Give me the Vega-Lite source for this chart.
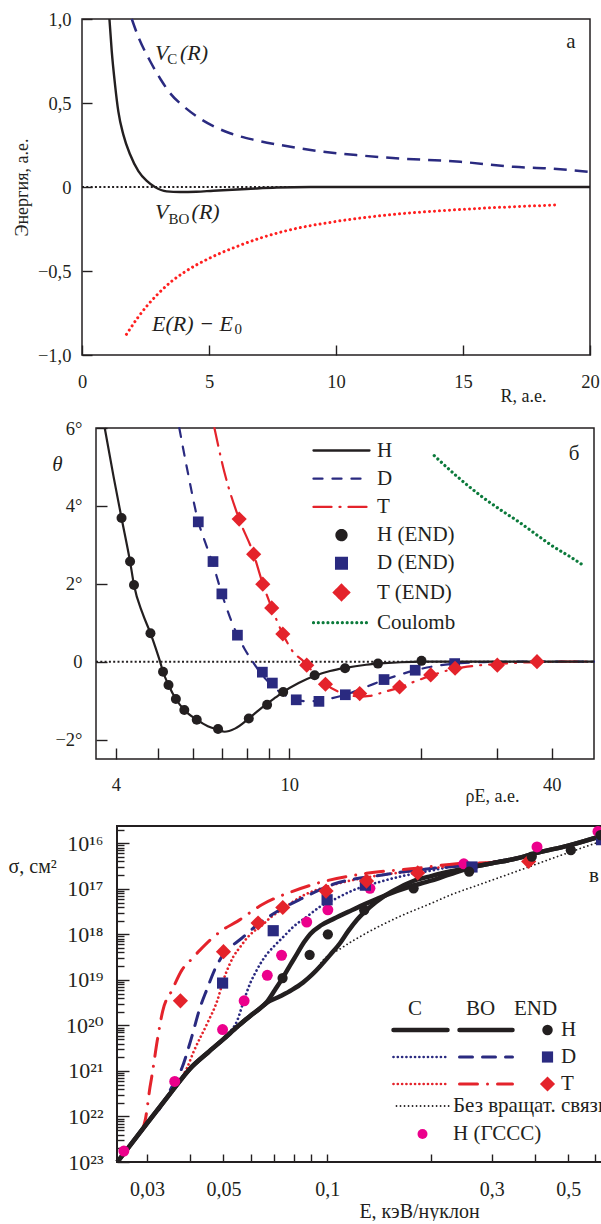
{
"$schema": "https://vega.github.io/schema/vega-lite/v6.json",
"padding": {"left": 8, "top": 9, "right": 0, "bottom": 0},
"spacing": 13,
"resolve": {"scale": {"color": "independent", "shape": "independent", "size": "independent", "strokeDash": "independent", "strokeWidth": "independent"}},
"config": {
  "font": "Liberation Serif",
  "view": {"stroke": "#231f20", "strokeWidth": 1.5},
  "axis": {"labelFont": "Liberation Serif", "titleFont": "Liberation Serif", "labelColor": "#231f20", "titleColor": "#231f20", "tickColor": "#231f20", "tickWidth": 1.4, "domain": false, "grid": false, "titleFontWeight": "normal", "labelFlush": false, "labelOverlap": false},
  "legend": {"labelFont": "Liberation Serif", "titleFont": "Liberation Serif", "titleFontWeight": "normal", "labelColor": "#231f20", "titleColor": "#231f20", "labelLimit": 400, "padding": 0, "orient": "none"},
  "text": {"font": "Liberation Serif", "color": "#231f20"}
},
"datasets": {
  "a": [
    {"s":"zero","x":0,"y":0},{"s":"zero","x":20,"y":0},
    {"s":"BO","x":1.08,"y":1.0},{"s":"BO","x":1.17,"y":0.81},{"s":"BO","x":1.3,"y":0.61},{"s":"BO","x":1.43,"y":0.45},{"s":"BO","x":1.63,"y":0.31},{"s":"BO","x":1.89,"y":0.195},{"s":"BO","x":2.22,"y":0.095},{"s":"BO","x":2.55,"y":0.036},{"s":"BO","x":2.87,"y":0.0},{"s":"BO","x":3.33,"y":-0.026},{"s":"BO","x":3.86,"y":-0.03},{"s":"BO","x":4.5,"y":-0.028},{"s":"BO","x":5.17,"y":-0.022},{"s":"BO","x":6.48,"y":-0.012},{"s":"BO","x":7.66,"y":-0.003},{"s":"BO","x":9,"y":0},{"s":"BO","x":20,"y":0},
    {"s":"C","x":1.96,"y":1.0},{"s":"C","x":2.2,"y":0.9},{"s":"C","x":2.68,"y":0.75},{"s":"C","x":3.1,"y":0.64},{"s":"C","x":3.46,"y":0.56},{"s":"C","x":4.0,"y":0.48},{"s":"C","x":4.52,"y":0.42},{"s":"C","x":5.2,"y":0.36},{"s":"C","x":5.83,"y":0.32},{"s":"C","x":6.8,"y":0.28},{"s":"C","x":7.8,"y":0.25},{"s":"C","x":9,"y":0.22},{"s":"C","x":10.8,"y":0.19},{"s":"C","x":12.5,"y":0.17},{"s":"C","x":14.9,"y":0.15},{"s":"C","x":17,"y":0.12},{"s":"C","x":18.5,"y":0.11},{"s":"C","x":20,"y":0.09},
    {"s":"E","x":1.75,"y":-0.877},{"s":"E","x":2.2,"y":-0.777},{"s":"E","x":2.6,"y":-0.7},{"s":"E","x":3.0,"y":-0.635},{"s":"E","x":3.5,"y":-0.565},{"s":"E","x":4.0,"y":-0.51},{"s":"E","x":5.0,"y":-0.425},{"s":"E","x":6.0,"y":-0.36},{"s":"E","x":7.0,"y":-0.305},{"s":"E","x":8.0,"y":-0.262},{"s":"E","x":10.0,"y":-0.205},{"s":"E","x":12.0,"y":-0.167},{"s":"E","x":15.0,"y":-0.133},{"s":"E","x":18.7,"y":-0.107}
  ],
  "at": [
    {"t":"V","x":2.874,"y":0.798},{"t":"(R)","x":3.858,"y":0.798},
    {"t":"V","x":2.874,"y":-0.149},{"t":"(R)","x":4.315,"y":-0.149},
    {"t":"E(R) − E","x":2.756,"y":-0.8125}
  ],
  "as": [
    {"t":"C","x":3.358,"y":0.762},{"t":"BO","x":3.409,"y":-0.19},{"t":"0","x":6.0,"y":-0.845}
  ],
  "al": [{"t":"а","x":19.25,"y":0.863}],
  "bf": [{"x":3.6,"x2":50,"y":-2.5,"y2":6}],
  "b": [
    {"s":"zero","x":3.6,"y":0},{"s":"zero","x":50,"y":0},
    {"s":"H","x":3.77,"y":6.0},{"s":"H","x":3.95,"y":4.75},{"s":"H","x":4.12,"y":3.69},{"s":"H","x":4.31,"y":2.57},{"s":"H","x":4.4,"y":1.97},{"s":"H","x":4.6,"y":1.25},{"s":"H","x":4.8,"y":0.73},{"s":"H","x":4.95,"y":0.3},{"s":"H","x":5.05,"y":0.0},{"s":"H","x":5.13,"y":-0.26},{"s":"H","x":5.28,"y":-0.6},{"s":"H","x":5.49,"y":-0.96},{"s":"H","x":5.74,"y":-1.24},{"s":"H","x":6.13,"y":-1.49},{"s":"H","x":6.5,"y":-1.66},{"s":"H","x":6.86,"y":-1.75},{"s":"H","x":7.1,"y":-1.8},{"s":"H","x":7.5,"y":-1.72},{"s":"H","x":8.07,"y":-1.46},{"s":"H","x":8.5,"y":-1.25},{"s":"H","x":8.89,"y":-1.08},{"s":"H","x":9.3,"y":-0.92},{"s":"H","x":9.68,"y":-0.78},{"s":"H","x":10.5,"y":-0.55},{"s":"H","x":11.43,"y":-0.36},{"s":"H","x":12.4,"y":-0.24},{"s":"H","x":13.42,"y":-0.16},{"s":"H","x":15,"y":-0.08},{"s":"H","x":16.5,"y":-0.04},{"s":"H","x":18,"y":-0.015},{"s":"H","x":20.1,"y":0},{"s":"H","x":30,"y":0},{"s":"H","x":50,"y":0},
    {"s":"D","x":5.59,"y":6.0},{"s":"D","x":5.85,"y":4.85},{"s":"D","x":6.18,"y":3.6},{"s":"D","x":6.45,"y":2.98},{"s":"D","x":6.68,"y":2.5},{"s":"D","x":7.0,"y":1.74},{"s":"D","x":7.3,"y":1.15},{"s":"D","x":7.6,"y":0.68},{"s":"D","x":7.9,"y":0.32},{"s":"D","x":8.24,"y":0.0},{"s":"D","x":8.6,"y":-0.3},{"s":"D","x":9.1,"y":-0.6},{"s":"D","x":9.7,"y":-0.84},{"s":"D","x":10.37,"y":-0.98},{"s":"D","x":11.0,"y":-1.02},{"s":"D","x":11.7,"y":-1.0},{"s":"D","x":12.5,"y":-0.94},{"s":"D","x":13.44,"y":-0.85},{"s":"D","x":15,"y":-0.65},{"s":"D","x":16.49,"y":-0.47},{"s":"D","x":18,"y":-0.33},{"s":"D","x":19.44,"y":-0.22},{"s":"D","x":22,"y":-0.1},{"s":"D","x":24,"y":-0.05},{"s":"D","x":28,"y":-0.01},{"s":"D","x":35,"y":0},{"s":"D","x":50,"y":0},
    {"s":"T","x":6.73,"y":6.0},{"s":"T","x":7.1,"y":4.85},{"s":"T","x":7.67,"y":3.66},{"s":"T","x":8.28,"y":2.76},{"s":"T","x":8.69,"y":2.0},{"s":"T","x":9.11,"y":1.38},{"s":"T","x":9.66,"y":0.71},{"s":"T","x":10.2,"y":0.25},{"s":"T","x":10.8,"y":0.0},{"s":"T","x":11.4,"y":-0.3},{"s":"T","x":12.1,"y":-0.58},{"s":"T","x":13.0,"y":-0.78},{"s":"T","x":14.0,"y":-0.88},{"s":"T","x":14.5,"y":-0.9},{"s":"T","x":15.3,"y":-0.88},{"s":"T","x":16.5,"y":-0.78},{"s":"T","x":17.9,"y":-0.66},{"s":"T","x":19.5,"y":-0.5},{"s":"T","x":21.1,"y":-0.36},{"s":"T","x":24,"y":-0.18},{"s":"T","x":27,"y":-0.1},{"s":"T","x":30,"y":-0.06},{"s":"T","x":37,"y":-0.01},{"s":"T","x":45,"y":0},{"s":"T","x":50,"y":0},
    {"s":"Coulomb","x":21.5,"y":5.29},{"s":"Coulomb","x":24,"y":4.8},{"s":"Coulomb","x":27.4,"y":4.27},{"s":"Coulomb","x":30.5,"y":3.9},{"s":"Coulomb","x":33.6,"y":3.59},{"s":"Coulomb","x":37,"y":3.25},{"s":"Coulomb","x":40.4,"y":2.95},{"s":"Coulomb","x":44,"y":2.7},{"s":"Coulomb","x":47,"y":2.49}
  ],
  "bp": [
    {"s":"H (END)","x":4.12,"y":3.69},{"s":"H (END)","x":4.31,"y":2.57},{"s":"H (END)","x":4.4,"y":1.97},{"s":"H (END)","x":4.8,"y":0.73},{"s":"H (END)","x":5.13,"y":-0.26},{"s":"H (END)","x":5.28,"y":-0.6},{"s":"H (END)","x":5.49,"y":-0.96},{"s":"H (END)","x":5.74,"y":-1.24},{"s":"H (END)","x":6.13,"y":-1.49},{"s":"H (END)","x":6.86,"y":-1.73},{"s":"H (END)","x":8.07,"y":-1.46},{"s":"H (END)","x":8.89,"y":-1.11},{"s":"H (END)","x":9.68,"y":-0.78},{"s":"H (END)","x":11.43,"y":-0.35},{"s":"H (END)","x":13.42,"y":-0.17},{"s":"H (END)","x":15.97,"y":-0.05},{"s":"H (END)","x":20.1,"y":0.02},
    {"s":"D (END)","x":6.18,"y":3.59},{"s":"D (END)","x":6.68,"y":2.57},{"s":"D (END)","x":7.0,"y":1.74},{"s":"D (END)","x":7.6,"y":0.68},{"s":"D (END)","x":8.67,"y":-0.27},{"s":"D (END)","x":9.14,"y":-0.55},{"s":"D (END)","x":10.37,"y":-0.98},{"s":"D (END)","x":11.69,"y":-1.02},{"s":"D (END)","x":13.44,"y":-0.85},{"s":"D (END)","x":16.49,"y":-0.46},{"s":"D (END)","x":19.44,"y":-0.22},{"s":"D (END)","x":23.95,"y":-0.05},
    {"s":"T (END)","x":7.67,"y":3.66},{"s":"T (END)","x":8.28,"y":2.76},{"s":"T (END)","x":8.69,"y":1.99},{"s":"T (END)","x":9.11,"y":1.38},{"s":"T (END)","x":9.66,"y":0.71},{"s":"T (END)","x":10.96,"y":-0.09},{"s":"T (END)","x":12.1,"y":-0.58},{"s":"T (END)","x":14.5,"y":-0.82},{"s":"T (END)","x":17.9,"y":-0.65},{"s":"T (END)","x":21.1,"y":-0.34},{"s":"T (END)","x":24.0,"y":-0.17},{"s":"T (END)","x":30.0,"y":-0.09},{"s":"T (END)","x":37.0,"y":0.0}
  ],
  "bl": [{"t":"б","x":45,"y":5.33}],
  "vf": [{"x":0.02455,"x2":0.648,"k":15.62,"k2":23}],
  "v": [
    {"grp":"H","iso":"up","x":0.0246,"k":23.0},{"grp":"H","iso":"up","x":0.03,"k":22.15},{"grp":"H","iso":"up","x":0.035,"k":21.5},{"grp":"H","iso":"up","x":0.04,"k":20.95},{"grp":"H","iso":"up","x":0.045,"k":20.6},{"grp":"H","iso":"up","x":0.05,"k":20.3},{"grp":"H","iso":"up","x":0.055,"k":20.02},{"grp":"H","iso":"up","x":0.06,"k":19.78},{"grp":"H","iso":"up","x":0.0635,"k":19.64},{"grp":"H","iso":"up","x":0.0669,"k":19.48},{"grp":"H","iso":"up","x":0.0705,"k":19.22},{"grp":"H","iso":"up","x":0.0742,"k":18.96},{"grp":"H","iso":"up","x":0.078,"k":18.68},{"grp":"H","iso":"up","x":0.0817,"k":18.43},{"grp":"H","iso":"up","x":0.0855,"k":18.18},{"grp":"H","iso":"up","x":0.0893,"k":17.99},{"grp":"H","iso":"up","x":0.096,"k":17.8},{"grp":"H","iso":"up","x":0.1043,"k":17.66},{"grp":"H","iso":"up","x":0.117,"k":17.48},{"grp":"H","iso":"up","x":0.13,"k":17.32},{"grp":"H","iso":"up","x":0.15,"k":17.12},{"grp":"H","iso":"up","x":0.174,"k":16.95},{"grp":"H","iso":"up","x":0.2,"k":16.82},{"grp":"H","iso":"up","x":0.227,"k":16.68},{"grp":"H","iso":"up","x":0.265,"k":16.52},{"grp":"H","iso":"up","x":0.3,"k":16.44},{"grp":"H","iso":"up","x":0.355,"k":16.33},{"grp":"H","iso":"up","x":0.4,"k":16.22},{"grp":"H","iso":"up","x":0.5,"k":16.05},{"grp":"H","iso":"up","x":0.648,"k":15.8},
    {"grp":"H","iso":"low","x":0.0246,"k":23.0},{"grp":"H","iso":"low","x":0.03,"k":22.15},{"grp":"H","iso":"low","x":0.035,"k":21.5},{"grp":"H","iso":"low","x":0.04,"k":20.95},{"grp":"H","iso":"low","x":0.045,"k":20.6},{"grp":"H","iso":"low","x":0.05,"k":20.3},{"grp":"H","iso":"low","x":0.055,"k":20.02},{"grp":"H","iso":"low","x":0.06,"k":19.78},{"grp":"H","iso":"low","x":0.0635,"k":19.64},{"grp":"H","iso":"low","x":0.0669,"k":19.5},{"grp":"H","iso":"low","x":0.073,"k":19.36},{"grp":"H","iso":"low","x":0.079,"k":19.22},{"grp":"H","iso":"low","x":0.085,"k":19.06},{"grp":"H","iso":"low","x":0.0905,"k":18.88},{"grp":"H","iso":"low","x":0.0954,"k":18.7},{"grp":"H","iso":"low","x":0.102,"k":18.45},{"grp":"H","iso":"low","x":0.109,"k":18.19},{"grp":"H","iso":"low","x":0.115,"k":17.93},{"grp":"H","iso":"low","x":0.122,"k":17.68},{"grp":"H","iso":"low","x":0.133,"k":17.4},{"grp":"H","iso":"low","x":0.1456,"k":17.17},{"grp":"H","iso":"low","x":0.162,"k":16.97},{"grp":"H","iso":"low","x":0.182,"k":16.8},{"grp":"H","iso":"low","x":0.2,"k":16.72},{"grp":"H","iso":"low","x":0.227,"k":16.62},{"grp":"H","iso":"low","x":0.265,"k":16.52},{"grp":"H","iso":"low","x":0.3,"k":16.44},{"grp":"H","iso":"low","x":0.355,"k":16.33},{"grp":"H","iso":"low","x":0.4,"k":16.22},{"grp":"H","iso":"low","x":0.5,"k":16.05},{"grp":"H","iso":"low","x":0.648,"k":15.8},
    {"grp":"C","iso":"D","x":0.05,"k":20.32},{"grp":"C","iso":"D","x":0.0525,"k":20.12},{"grp":"C","iso":"D","x":0.0547,"k":19.91},{"grp":"C","iso":"D","x":0.0572,"k":19.47},{"grp":"C","iso":"D","x":0.0598,"k":19.07},{"grp":"C","iso":"D","x":0.0625,"k":18.78},{"grp":"C","iso":"D","x":0.0661,"k":18.48},{"grp":"C","iso":"D","x":0.0699,"k":18.27},{"grp":"C","iso":"D","x":0.0747,"k":18.05},{"grp":"C","iso":"D","x":0.0798,"k":17.83},{"grp":"C","iso":"D","x":0.0873,"k":17.61},{"grp":"C","iso":"D","x":0.095,"k":17.4},{"grp":"C","iso":"D","x":0.105,"k":17.23},{"grp":"C","iso":"D","x":0.119,"k":17.03},{"grp":"C","iso":"D","x":0.14,"k":16.86},{"grp":"C","iso":"D","x":0.163,"k":16.73},{"grp":"C","iso":"D","x":0.2,"k":16.6},{"grp":"C","iso":"D","x":0.227,"k":16.52},{"grp":"C","iso":"D","x":0.265,"k":16.47},{"grp":"C","iso":"D","x":0.3,"k":16.42},{"grp":"C","iso":"D","x":0.355,"k":16.32},
    {"grp":"C","iso":"T","x":0.037,"k":21.27},{"grp":"C","iso":"T","x":0.0392,"k":20.93},{"grp":"C","iso":"T","x":0.041,"k":20.57},{"grp":"C","iso":"T","x":0.0449,"k":19.95},{"grp":"C","iso":"T","x":0.048,"k":19.45},{"grp":"C","iso":"T","x":0.05,"k":19.0},{"grp":"C","iso":"T","x":0.0518,"k":18.7},{"grp":"C","iso":"T","x":0.0535,"k":18.48},{"grp":"C","iso":"T","x":0.056,"k":18.27},{"grp":"C","iso":"T","x":0.0585,"k":18.08},{"grp":"C","iso":"T","x":0.0611,"k":17.94},{"grp":"C","iso":"T","x":0.064,"k":17.83},{"grp":"C","iso":"T","x":0.068,"k":17.65},{"grp":"C","iso":"T","x":0.075,"k":17.42},{"grp":"C","iso":"T","x":0.085,"k":17.15},{"grp":"C","iso":"T","x":0.1,"k":16.95},{"grp":"C","iso":"T","x":0.13,"k":16.75},{"grp":"C","iso":"T","x":0.18,"k":16.6},{"grp":"C","iso":"T","x":0.24,"k":16.48},{"grp":"C","iso":"T","x":0.3,"k":16.42},{"grp":"C","iso":"T","x":0.355,"k":16.32},
    {"grp":"BO","iso":"D","x":0.0325,"k":21.85},{"grp":"BO","iso":"D","x":0.034,"k":21.6},{"grp":"BO","iso":"D","x":0.036,"k":21.25},{"grp":"BO","iso":"D","x":0.0379,"k":20.93},{"grp":"BO","iso":"D","x":0.0401,"k":20.35},{"grp":"BO","iso":"D","x":0.0428,"k":19.6},{"grp":"BO","iso":"D","x":0.0448,"k":19.2},{"grp":"BO","iso":"D","x":0.047,"k":18.8},{"grp":"BO","iso":"D","x":0.0496,"k":18.48},{"grp":"BO","iso":"D","x":0.053,"k":18.25},{"grp":"BO","iso":"D","x":0.0566,"k":18.08},{"grp":"BO","iso":"D","x":0.0625,"k":17.8},{"grp":"BO","iso":"D","x":0.0715,"k":17.5},{"grp":"BO","iso":"D","x":0.0845,"k":17.21},{"grp":"BO","iso":"D","x":0.104,"k":16.9},{"grp":"BO","iso":"D","x":0.146,"k":16.69},{"grp":"BO","iso":"D","x":0.203,"k":16.55},{"grp":"BO","iso":"D","x":0.26,"k":16.48},{"grp":"BO","iso":"D","x":0.3,"k":16.42},{"grp":"BO","iso":"D","x":0.355,"k":16.32},
    {"grp":"BO","iso":"T","x":0.029,"k":22.32},{"grp":"BO","iso":"T","x":0.0297,"k":22.05},{"grp":"BO","iso":"T","x":0.0306,"k":21.36},{"grp":"BO","iso":"T","x":0.0311,"k":21.04},{"grp":"BO","iso":"T","x":0.0321,"k":20.35},{"grp":"BO","iso":"T","x":0.0333,"k":19.69},{"grp":"BO","iso":"T","x":0.0355,"k":19.22},{"grp":"BO","iso":"T","x":0.0379,"k":18.78},{"grp":"BO","iso":"T","x":0.0401,"k":18.57},{"grp":"BO","iso":"T","x":0.0428,"k":18.34},{"grp":"BO","iso":"T","x":0.0458,"k":18.12},{"grp":"BO","iso":"T","x":0.05,"k":17.89},{"grp":"BO","iso":"T","x":0.0547,"k":17.72},{"grp":"BO","iso":"T","x":0.0646,"k":17.35},{"grp":"BO","iso":"T","x":0.079,"k":17.06},{"grp":"BO","iso":"T","x":0.0933,"k":16.88},{"grp":"BO","iso":"T","x":0.13,"k":16.66},{"grp":"BO","iso":"T","x":0.182,"k":16.55},{"grp":"BO","iso":"T","x":0.237,"k":16.45},{"grp":"BO","iso":"T","x":0.3,"k":16.42},{"grp":"BO","iso":"T","x":0.355,"k":16.32},
    {"grp":"NR","iso":"H","x":0.092,"k":18.85},{"grp":"NR","iso":"H","x":0.0954,"k":18.65},{"grp":"NR","iso":"H","x":0.11,"k":18.3},{"grp":"NR","iso":"H","x":0.13,"k":17.97},{"grp":"NR","iso":"H","x":0.163,"k":17.6},{"grp":"NR","iso":"H","x":0.2,"k":17.32},{"grp":"NR","iso":"H","x":0.227,"k":17.14},{"grp":"NR","iso":"H","x":0.278,"k":16.9},{"grp":"NR","iso":"H","x":0.35,"k":16.63},{"grp":"NR","iso":"H","x":0.45,"k":16.33},{"grp":"NR","iso":"H","x":0.648,"k":15.91}
  ],
  "vp": [
    {"set":"GSSS","iso":"H","x":0.0257,"k":22.76},{"set":"GSSS","iso":"H","x":0.0361,"k":21.23},{"set":"GSSS","iso":"H","x":0.0497,"k":20.09},{"set":"GSSS","iso":"H","x":0.0574,"k":19.46},{"set":"GSSS","iso":"H","x":0.067,"k":18.9},{"set":"GSSS","iso":"H","x":0.0737,"k":18.46},{"set":"GSSS","iso":"H","x":0.0872,"k":17.73},{"set":"GSSS","iso":"H","x":0.1004,"k":17.46},{"set":"GSSS","iso":"H","x":0.133,"k":16.99},{"set":"GSSS","iso":"H","x":0.249,"k":16.45},{"set":"GSSS","iso":"H","x":0.406,"k":16.08},{"set":"GSSS","iso":"H","x":0.61,"k":15.74},
    {"set":"END","iso":"D","x":0.0497,"k":19.07},{"set":"END","iso":"D","x":0.0697,"k":17.92},{"set":"END","iso":"D","x":0.0999,"k":17.24},{"set":"END","iso":"D","x":0.129,"k":16.92},{"set":"END","iso":"D","x":0.263,"k":16.52},{"set":"END","iso":"D","x":0.625,"k":15.92},
    {"set":"END","iso":"T","x":0.0375,"k":19.46},{"set":"END","iso":"T","x":0.05,"k":18.38},{"set":"END","iso":"T","x":0.063,"k":17.75},{"set":"END","iso":"T","x":0.0743,"k":17.41},{"set":"END","iso":"T","x":0.0992,"k":17.05},{"set":"END","iso":"T","x":0.13,"k":16.83},{"set":"END","iso":"T","x":0.183,"k":16.65},{"set":"END","iso":"T","x":0.384,"k":16.4},
    {"set":"END","iso":"H","x":0.0742,"k":18.96},{"set":"END","iso":"H","x":0.0889,"k":18.45},{"set":"END","iso":"H","x":0.1004,"k":18.0},{"set":"END","iso":"H","x":0.128,"k":17.47},{"set":"END","iso":"H","x":0.178,"k":16.99},{"set":"END","iso":"H","x":0.258,"k":16.62},{"set":"END","iso":"H","x":0.392,"k":16.29},{"set":"END","iso":"H","x":0.509,"k":16.15},{"set":"END","iso":"H","x":0.62,"k":15.82}
  ],
  "vl": [{"t":"в","x":0.594,"k":16.72}]
},
"vconcat": [
 {
  "width": 508, "height": 336,
  "encoding": {
   "x": {"field":"x","type":"quantitative","scale":{"domain":[0,20],"nice":false,"zero":false},"axis":{"values":[0,5,10,15,20],"format":"d","tickSize":-10,"labelPadding":27,"labelFontSize":18.5,"title":"R, а.е.","titleFontSize":18,"titleX":418,"titleY":41,"titleAlign":"left","titleBaseline":"middle","titleAngle":0}},
   "y": {"field":"y","type":"quantitative","scale":{"domain":[-1,1],"nice":false,"zero":false},"axis":{"values":[-1,-0.5,0,0.5,1],"labelExpr":"datum.value==1?'1,0':datum.value==0.5?'0,5':datum.value==0?'0':datum.value==-0.5?'−0,5':'−1,0'","tickSize":-10,"labelPadding":21,"labelFontSize":18.5,"title":"Энергия, а.е.","titleFontSize":18,"titleX":-60,"titleY":168,"titleAngle":-90,"titleAlign":"center","titleBaseline":"middle"}}
  },
  "layer": [
   {"data":{"name":"a"},"transform":[{"filter":"datum.s=='zero'"}],"mark":{"type":"line","color":"#231f20","strokeWidth":2,"strokeDash":[2,2.3]},"encoding":{}},
   {"data":{"name":"a"},"transform":[{"filter":"datum.s=='BO'"}],"mark":{"type":"line","color":"#231f20","strokeWidth":2.4,"interpolate":"monotone"},"encoding":{}},
   {"data":{"name":"a"},"transform":[{"filter":"datum.s=='C'"}],"mark":{"type":"line","color":"#2a2a80","strokeWidth":2.5,"strokeDash":[13,8],"interpolate":"monotone"},"encoding":{}},
   {"data":{"name":"a"},"transform":[{"filter":"datum.s=='E'"}],"mark":{"type":"line","color":"#ff1f1f","strokeWidth":3,"strokeDash":[0.01,5],"strokeCap":"round","interpolate":"monotone"},"encoding":{}},
   {"data":{"name":"at"},"mark":{"type":"text","fontStyle":"italic","fontSize":22,"align":"left","baseline":"middle"},"encoding":{"text":{"field":"t"}}},
   {"data":{"name":"as"},"mark":{"type":"text","fontSize":15,"align":"left","baseline":"middle"},"encoding":{"text":{"field":"t"}}},
   {"data":{"name":"al"},"mark":{"type":"text","fontSize":21,"align":"center","baseline":"middle"},"encoding":{"text":{"field":"t"}}}
  ]
 },
 {
  "width": 512, "height": 331,
  "view": {"stroke": null},
  "encoding": {
   "x": {"field":"x","type":"quantitative","scale":{"type":"log","domain":[3.6,50],"range":[14,512],"nice":false},"axis":{"values":[4,5,6,7,8,9,10,20,30,40],"labelExpr":"(datum.value==4||datum.value==10||datum.value==40)?format(datum.value,'d'):''","tickSize":-11,"labelPadding":27,"labelFontSize":18.5,"title":"ρE, а.е.","titleFontSize":18,"titleX":383,"titleY":37,"titleAlign":"left","titleBaseline":"middle","titleAngle":0}},
   "y": {"field":"y","type":"quantitative","scale":{"domain":[-2.5,6],"nice":false,"zero":false},"axis":{"offset":-14,"values":[-2,0,2,4,6],"labelExpr":"datum.value==0?'0':datum.value<0?'−'+format(-datum.value,'d')+'°':format(datum.value,'d')+'°'","tickSize":-11,"labelPadding":25,"labelFontSize":18.5,"title":"θ","titleFontStyle":"italic","titleFontSize":21,"titleX":-39,"titleY":36,"titleAngle":0,"titleAlign":"center","titleBaseline":"middle"}}
  },
  "layer": [
   {"data":{"name":"bf"},"mark":{"type":"rect","filled":false,"color":"#231f20","strokeWidth":1.5},"encoding":{"x2":{"field":"x2"},"y2":{"field":"y2"}}},
   {"data":{"name":"b"},"transform":[{"filter":"datum.s=='zero'"}],"mark":{"type":"line","color":"#231f20","strokeWidth":2,"strokeDash":[2,2.3]},"encoding":{}},
   {"data":{"name":"b"},"transform":[{"filter":"datum.s=='D'"}],"mark":{"type":"line","color":"#2a2a80","strokeWidth":2.2,"strokeDash":[9,10],"strokeCap":"round","interpolate":"monotone"},"encoding":{}},
   {"data":{"name":"b"},"transform":[{"filter":"datum.s=='T'"}],"mark":{"type":"line","color":"#e4232b","strokeWidth":2.2,"strokeDash":[18,8,1,8],"strokeCap":"round","interpolate":"monotone"},"encoding":{}},
   {"data":{"name":"b"},"transform":[{"filter":"datum.s=='Coulomb'"}],"mark":{"type":"line","color":"#0b7a3b","strokeWidth":3.2,"strokeDash":[0.01,4.8],"strokeCap":"round","interpolate":"monotone"},"encoding":{}},
   {"data":{"name":"b"},"transform":[{"filter":"datum.s=='H'"}],"mark":{"type":"line","interpolate":"monotone","strokeWidth":2.2},
    "encoding":{
     "color":{"field":"s","type":"nominal","scale":{"domain":["H","D","T","H (END)","D (END)","T (END)","Coulomb"],"range":["#231f20","#2a2a80","#e4232b","#231f20","#2a2a80","#e4232b","#0b7a3b"]},
      "legend":{"orient":"none","legendX":232,"legendY":12,"title":null,"padding":0,"rowPadding":6.2,"symbolSize":100,"symbolOffset":17,"labelOffset":25,"labelFontSize":21,"labelColor":"#231f20",
       "encode":{"symbols":{"update":{
        "shape":{"signal":"datum.value=='H (END)'?'circle':datum.value=='D (END)'?'square':datum.value=='T (END)'?'diamond':'M-5.6,0H5.6'"},
        "size":{"signal":"datum.value=='T (END)'?230:datum.value=='D (END)'?115:100"},
        "fill":{"signal":"datum.value=='H (END)'?'#231f20':datum.value=='D (END)'?'#2a2a80':datum.value=='T (END)'?'#e4232b':'transparent'"},
        "stroke":{"signal":"datum.value=='H'?'#231f20':datum.value=='D'?'#2a2a80':datum.value=='T'?'#e4232b':datum.value=='Coulomb'?'#0b7a3b':'transparent'"},
        "strokeDash":{"signal":"datum.value=='D'?[9,10]:datum.value=='T'?[18,8,1,8]:datum.value=='Coulomb'?[0.01,4.8]:[1,0]"},
        "strokeCap":{"value":"round"},
        "strokeWidth":{"signal":"datum.value=='Coulomb'?3.2:2.3"},
        "opacity":{"value":1}}}}}}
    }},
   {"data":{"name":"bp"},"transform":[{"filter":"datum.s=='D (END)'"}],"mark":{"type":"point","filled":true,"opacity":1,"shape":"square","size":115,"color":"#2a2a80"}},
   {"data":{"name":"bp"},"transform":[{"filter":"datum.s=='T (END)'"}],"mark":{"type":"point","filled":true,"opacity":1,"shape":"diamond","size":230,"color":"#e4232b"}},
   {"data":{"name":"bp"},"transform":[{"filter":"datum.s=='H (END)'"}],"mark":{"type":"point","filled":true,"opacity":1,"shape":"circle","size":100,"color":"#231f20"}},
   {"data":{"name":"bl"},"mark":{"type":"text","fontSize":21,"align":"center","baseline":"middle"},"encoding":{"text":{"field":"t"}}}
  ]
 },
 {
  "width": 525, "height": 336,
  "view": {"stroke": null},
  "encoding": {
   "x": {"field":"x","type":"quantitative","scale":{"type":"log","domain":[0.02455,0.648],"range":[35,525],"nice":false},"axis":{"values":[0.03,0.04,0.05,0.06,0.07,0.08,0.09,0.1,0.2,0.3,0.4,0.5,0.6],"labelExpr":"datum.value==0.03?'0,03':datum.value==0.05?'0,05':datum.value==0.1?'0,1':datum.value==0.3?'0,3':datum.value==0.5?'0,5':''","tickSize":-8,"labelPadding":25,"labelFontSize":20,"title":"E, кэВ/нуклон","titleFontSize":20,"titleX":337,"titleY":49,"titleAlign":"center","titleBaseline":"middle","titleAngle":0}},
   "y": {"field":"k","type":"quantitative","scale":{"domain":[15.62,23],"reverse":true,"nice":false,"zero":false},"axis":{
     "offset":-35,
     "values":[15.699,16,16.046,16.097,16.155,16.222,16.301,16.398,16.523,16.699,17,17.046,17.097,17.155,17.222,17.301,17.398,17.523,17.699,18,18.046,18.097,18.155,18.222,18.301,18.398,18.523,18.699,19,19.046,19.097,19.155,19.222,19.301,19.398,19.523,19.699,20,20.046,20.097,20.155,20.222,20.301,20.398,20.523,20.699,21,21.046,21.097,21.155,21.222,21.301,21.398,21.523,21.699,22,22.046,22.097,22.155,22.222,22.301,22.398,22.523,22.699,23],
     "labelExpr":"datum.value==16?'10¹⁶':datum.value==17?'10¹⁷':datum.value==18?'10¹⁸':datum.value==19?'10¹⁹':datum.value==20?'10²⁰':datum.value==21?'10²¹':datum.value==22?'10²²':datum.value==23?'10²³':''",
     "labelFont":"Liberation Serif, DejaVu Serif",
     "tickSize":{"condition":{"test":"datum.value % 1 == 0","value":-12},"value":-7},
     "labelPadding":26,"labelFontSize":22,"title":"σ, см²","titleFontSize":20,"titleX":-109,"titleY":40,"titleAngle":0,"titleAlign":"left","titleBaseline":"middle"}}
  },
  "resolve": {"scale": {"color":"independent","shape":"independent","size":"independent","strokeDash":"independent"}},
  "layer": [
   {"data":{"name":"vf"},"mark":{"type":"rect","filled":false,"color":"#231f20","strokeWidth":2},"encoding":{"x2":{"field":"x2"},"y2":{"field":"k2"}}},
   {"data":{"name":"v"},"transform":[{"filter":"datum.grp=='NR'"}],"mark":{"type":"line","strokeWidth":1.8,"strokeDash":[0.01,4],"strokeCap":"round","interpolate":"monotone","clip":true},
    "encoding":{"color":{"datum":"Без вращат. связи","type":"nominal","scale":{"range":["#231f20"]},
     "legend":{"orient":"none","legendX":315,"legendY":269.5,"title":null,"padding":0,"symbolSize":100,"symbolOffset":0,"labelOffset":35,"labelFontSize":21,"labelColor":"#231f20",
      "encode":{"symbols":{"update":{"shape":{"value":"M-2.2,0H8.8"},"size":{"value":100},"fill":{"value":"transparent"},"stroke":{"value":"#231f20"},"strokeDash":{"value":[0.01,4]},"strokeCap":{"value":"round"},"strokeWidth":{"value":1.8},"opacity":{"value":1}}}}}}}},
   {"data":{"name":"v"},"transform":[{"filter":"datum.grp=='C'"}],"mark":{"type":"line","strokeWidth":2.7,"strokeDash":[0.01,4.3],"strokeCap":"round","interpolate":"monotone","clip":true},
    "encoding":{"color":{"field":"iso","type":"nominal","scale":{"domain":["H","D","T"],"range":["#231f20","#2a2a80","#e4232b"]},
     "legend":{"orient":"none","legendX":326,"legendY":171.5,"title":"C","titleFontSize":21,"titleAnchor":"start","titlePadding":1,"padding":0,"rowPadding":5,"symbolSize":100,"symbolOffset":0,"labelOffset":4,"labelFontSize":21,"labelColor":"transparent",
      "encode":{"symbols":{"update":{"shape":{"value":"M-5,0H5.8"},"size":{"value":100},"fill":{"value":"transparent"},"stroke":{"signal":"datum.value=='H'?'#231f20':datum.value=='D'?'#2a2a80':'#e4232b'"},"strokeDash":{"signal":"datum.value=='H'?[1,0]:[0.01,4.3]"},"strokeCap":{"value":"round"},"strokeWidth":{"signal":"datum.value=='H'?4.5:2.7"},"opacity":{"value":1}}}}}}}},
   {"data":{"name":"v"},"transform":[{"filter":"datum.grp=='BO'"}],"mark":{"type":"line","strokeWidth":3,"strokeCap":"round","interpolate":"monotone","clip":true},
    "encoding":{"color":{"field":"iso","type":"nominal","scale":{"domain":["H","D","T"],"range":["#231f20","#2a2a80","#e4232b"]},
     "legend":{"orient":"none","legendX":384,"legendY":171.5,"title":"BO","titleFontSize":21,"titleAnchor":"start","titlePadding":1,"padding":0,"rowPadding":5,"symbolSize":100,"symbolOffset":0,"labelOffset":4,"labelFontSize":21,"labelColor":"transparent",
      "encode":{"symbols":{"update":{"shape":{"value":"M-3.4,0H7.2"},"size":{"value":100},"fill":{"value":"transparent"},"stroke":{"signal":"datum.value=='H'?'#231f20':datum.value=='D'?'#2a2a80':'#e4232b'"},"strokeDash":{"signal":"datum.value=='H'?[1,0]:datum.value=='D'?[13,10]:[18,10,0.01,10]"},"strokeCap":{"value":"round"},"strokeWidth":{"signal":"datum.value=='H'?4.5:3"},"opacity":{"value":1}}}}}},
     "strokeDash":{"field":"iso","type":"nominal","scale":{"domain":["D","T"],"range":[[13,10],[18,10,0.01,10]]},"legend":null}}},
   {"data":{"name":"vp"},"transform":[{"filter":"datum.set=='END'"}],"mark":{"type":"line","strokeOpacity":0,"strokeWidth":0.1},
    "encoding":{"color":{"field":"iso","type":"nominal","scale":{"domain":["H","D","T"],"range":["#231f20","#2a2a80","#e4232b"]},
      "legend":{"orient":"none","legendX":432,"legendY":171.5,"title":"END","titleFontSize":21,"titleAnchor":"start","titlePadding":1,"padding":0,"rowPadding":5,"symbolSize":100,"symbolOffset":23,"labelOffset":3,"labelFontSize":21,"labelColor":"#231f20",
       "encode":{"symbols":{"update":{"shape":{"signal":"datum.value=='H'?'circle':datum.value=='D'?'square':'diamond'"},"size":{"signal":"datum.value=='H'?110:datum.value=='D'?125:230"},"fill":{"signal":"datum.value=='H'?'#231f20':datum.value=='D'?'#2a2a80':'#e4232b'"},"stroke":{"value":"transparent"},"strokeOpacity":{"value":0},"fillOpacity":{"value":1},"opacity":{"value":1}}}}}}}},
   {"data":{"name":"v"},"transform":[{"filter":"datum.grp=='H'"}],"mark":{"type":"line","strokeWidth":4.5,"color":"#231f20","interpolate":"monotone","clip":true},
    "encoding":{"detail":{"field":"iso"}}},
   {"data":{"name":"vp"},"transform":[{"filter":"datum.set=='GSSS'"}],"mark":{"type":"point","filled":true,"opacity":1,"size":120},
    "encoding":{"color":{"datum":"H (ГССС)","type":"nominal","scale":{"range":["#ec008c"]},
     "legend":{"orient":"none","legendX":315,"legendY":297.5,"title":null,"padding":0,"symbolSize":100,"symbolOffset":15,"labelOffset":20,"labelFontSize":21,"labelColor":"#231f20",
      "encode":{"symbols":{"update":{"shape":{"value":"circle"},"size":{"value":130},"fill":{"value":"#ec008c"},"stroke":{"value":"transparent"},"opacity":{"value":1}}}}}}}},
   {"data":{"name":"vp"},"transform":[{"filter":"datum.set=='END' && datum.iso=='D'"}],"mark":{"type":"point","filled":true,"opacity":1,"shape":"square","size":125,"color":"#2a2a80"}},
   {"data":{"name":"vp"},"transform":[{"filter":"datum.set=='END' && datum.iso=='T'"}],"mark":{"type":"point","filled":true,"opacity":1,"shape":"diamond","size":230,"color":"#e4232b"}},
   {"data":{"name":"vp"},"transform":[{"filter":"datum.set=='END' && datum.iso=='H'"}],"mark":{"type":"point","filled":true,"opacity":1,"shape":"circle","size":105,"color":"#231f20"}},
   {"data":{"name":"vl"},"mark":{"type":"text","fontSize":21,"align":"center","baseline":"middle"},"encoding":{"text":{"field":"t"}}}
  ]
 }
]
}
